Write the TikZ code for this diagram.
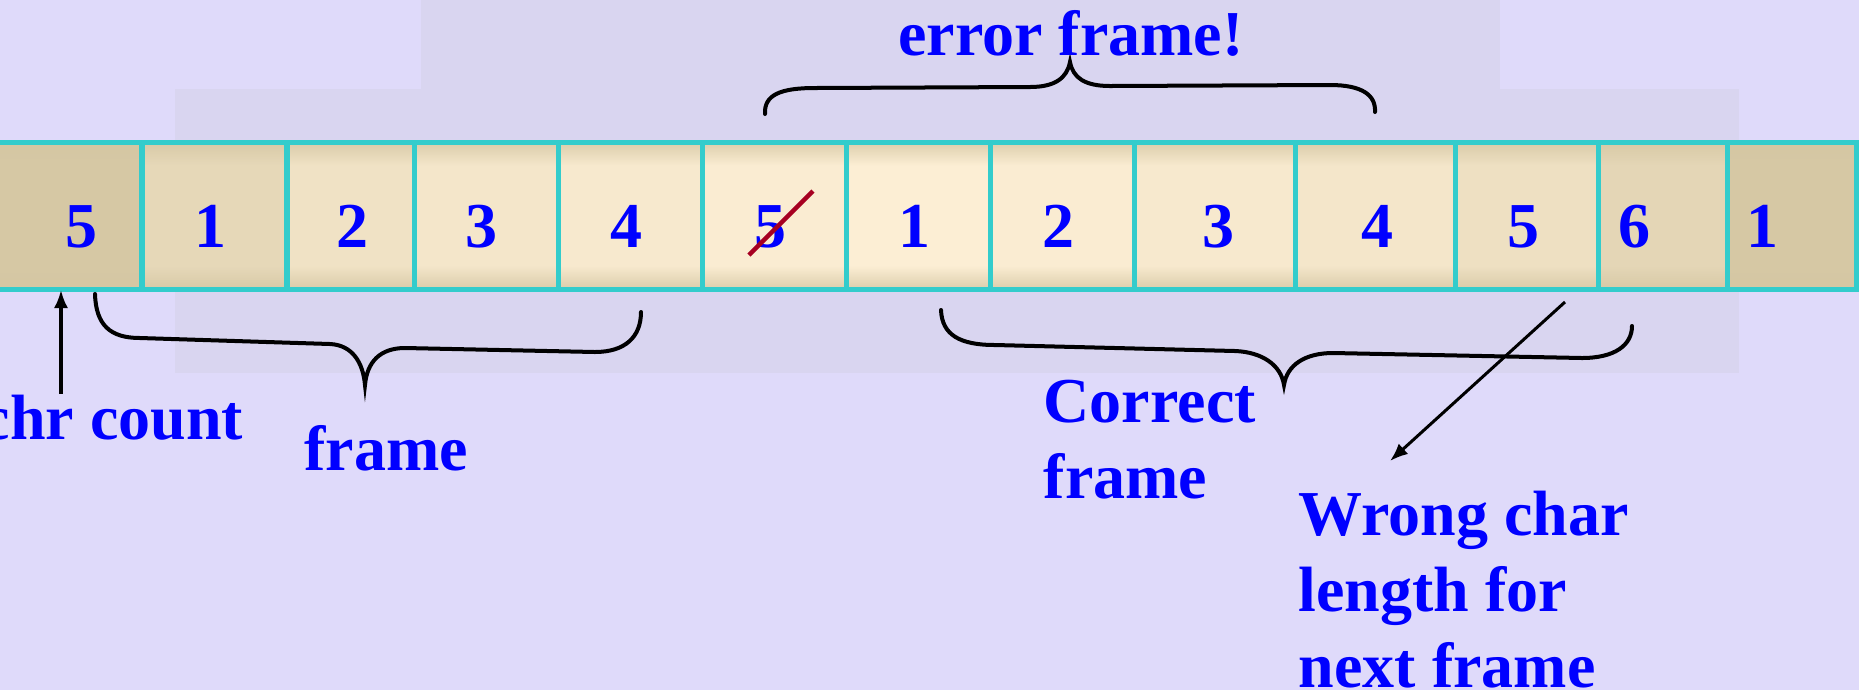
\documentclass[tikz,border=0pt]{standalone}
\usepackage{fontspec}
\setmainfont{Liberation Serif}
\usetikzlibrary{positioning,arrows.meta}

\definecolor{bgcol}{RGB}{223,218,250}
\definecolor{photocol}{RGB}{217,213,240}
\definecolor{tan}{RGB}{212,198,162}
\definecolor{cream}{RGB}{252,238,212}
\definecolor{cellcyan}{RGB}{51,204,204}
\definecolor{txtblue}{RGB}{0,0,255}
\definecolor{strikered}{RGB}{166,0,33}
\colorlet{cellmid}{cream}
\colorlet{celledge}{tan}

\pgfdeclareverticalshading[cellmid,celledge]{cellshade}{100bp}{color(0bp)=(celledge); color(25bp)=(celledge); color(33bp)=(cellmid); color(67bp)=(cellmid); color(75bp)=(celledge); color(100bp)=(celledge)}

\tikzset{
  cellrule/.style={draw=cellcyan,line width=0.05cm},
  digit/.style={text=txtblue,font=\bfseries\fontsize{18.2}{21.6}\selectfont,inner sep=0pt,anchor=base},
  lbl/.style={text=txtblue,font=\bfseries\fontsize{18.2}{21.6}\selectfont,inner sep=0pt,align=left},
  bracepen/.style={line width=0.04cm,line cap=round},
  pointer/.style={->,line width=0.03cm},
}

\begin{document}
\begin{tikzpicture}[x=0.01cm,y=-0.01cm,>={Latex[length=0.18cm,width=0.14cm]}]
  \useasboundingbox (0,0) rectangle (1859,690);
  \clip (0,0) rectangle (1859,690);
  % background and faded photo
  \fill[bgcol] (0,0) rectangle (1859,690);
  \fill[photocol] (421,0) rectangle (1500,89);
  \fill[photocol] (175,89) rectangle (1739,373);

  % the character stream
  \foreach \xa/\xb/\p in {-10/142/5, 142/287/45, 287/414/70, 414/558/80, 558/702/88, 702/846/96,
      846/990/100, 990/1134/96, 1134/1295/88, 1295/1455/80, 1455/1598/65, 1598/1727/40, 1727/1857/5}{
    \colorlet{cellmid}{cream!\p!tan}
    \colorlet{celledge}{tan!80!cellmid}
    \shade[shading=cellshade] (\xa,142) rectangle (\xb,289);
  }
  \foreach \xx in {142,287,414,558,702,846,990,1134,1295,1455,1598,1727,1856}
    \draw[cellrule] (\xx,142) -- (\xx,289);
  \draw[cellrule] (0,142) -- (1859,142) (0,289) -- (1859,289);

  \foreach \xx/\d [count=\i] in {81/5, 210/1, 353/2, 482/3, 626/4, 770/5, 914/1,
      1058/2, 1218/3, 1377/4, 1523/5, 1634/6, 1762/1}
    \node[digit] (d\i) at (\xx,247) {\d};
  \draw[strikered,line width=0.045cm] (749,255) -- (813,191);

  % braces
  \draw[bracepen] (765,114) .. controls (764,95) and (780,88) .. (815,88) -- (1030,87)
    .. controls (1055,87) and (1067,78) .. (1070,62) .. controls (1073,78) and (1085,86) .. (1110,86)
    -- (1330,85) .. controls (1362,85) and (1376,95) .. (1375,112);
  \draw[bracepen] (95,294) .. controls (96,325) and (110,338) .. (140,338) -- (330,344)
    .. controls (352,345) and (363,362) .. (365,385) .. controls (367,362) and (380,348) .. (405,348)
    -- (595,352) .. controls (625,352) and (641,337) .. (641,312);
  \draw[bracepen] (941,310) .. controls (942,335) and (960,345) .. (995,345) -- (1235,351)
    .. controls (1262,352) and (1281,365) .. (1284,385) .. controls (1287,365) and (1305,353) .. (1333,353)
    -- (1582,358) .. controls (1615,358) and (1632,345) .. (1632,326);

  % labels
  \node[lbl,anchor=base] (errlbl) at (1071,55) {error frame!};
  \node[lbl,anchor=base east] (cntlbl) at (244,439) {chr count};
  \node[lbl,anchor=base] (frmlbl) at (386,470) {frame};
  \node[lbl,anchor=base west] (corlbl) at (1043,498) {Correct\\frame};
  \node[lbl,anchor=base west] (wrglbl) at (1298,687) {Wrong char\\length for\\next frame};

  % pointers
  \coordinate (cnttip) at (61,290);
  \coordinate (wfrom) at (1565,302);
  \coordinate (wtip) at (1390,461);
  \draw[pointer] (cntlbl.north -| cnttip) -- (cnttip);
  \draw[pointer] (wfrom) -- (wtip);
\end{tikzpicture}
\end{document}
